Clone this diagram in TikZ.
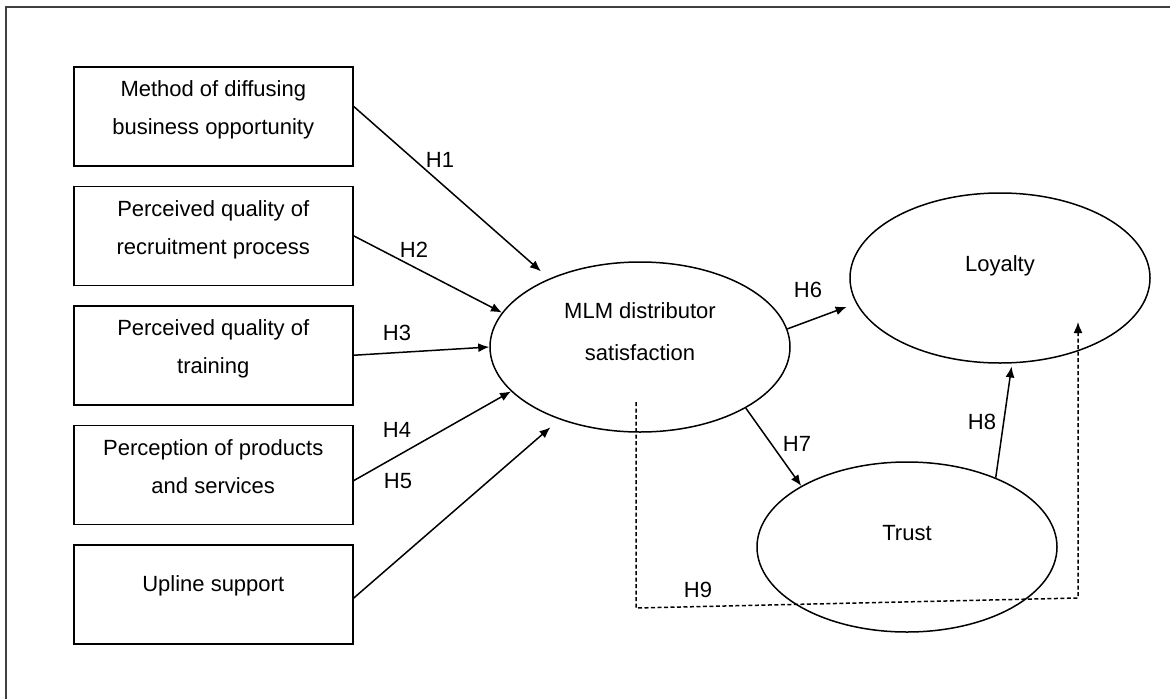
\documentclass[tikz,border=0pt]{standalone}
\usepackage{fontspec}
\setmainfont{Liberation Sans}
\usetikzlibrary{positioning,shapes.geometric,arrows.meta}
\newcommand{\lift}[1]{\rule[-#1]{0pt}{0pt}}
\tikzset{%
    factor/.style={shape=rectangle,draw,line width=1.5pt,minimum width=279pt,minimum height=99pt,inner sep=0pt,align=center},
    construct/.style={shape=ellipse,draw,line width=1.5pt,minimum width=300pt,minimum height=170pt,inner sep=0pt,align=center},
    hyp/.style={-{Latex[length=11pt,width=9pt]},line width=1.5pt},
    mediation/.style={hyp,dash pattern=on 4pt off 2.5pt},
    hlabel/.style={inner sep=0pt},
}
\begin{document}
\begin{tikzpicture}[x=1pt,y=-1pt,font=\fontsize{22}{38}\selectfont]
    \useasboundingbox (0,0) rectangle (1170,699);
    \draw[line width=2pt,color=black!75] (6,699) -- (6,7) -- (1170,7);
    % the five factors
    \node[factor,anchor=north west] (method) at (73,66) {Method of diffusing\\business opportunity\lift{17pt}};
    \node[factor,below=19pt of method] (recruit) {Perceived quality of\\recruitment process\lift{17pt}};
    \node[factor,below=19pt of recruit] (training) {Perceived quality of\\training\lift{17pt}};
    \node[factor,below=19pt of training] (products) {Perception of products\\and services\lift{17pt}};
    \node[factor,below=19pt of products] (upline) {Upline support\lift{21pt}};
    % the outcomes
    \node[construct] (mlm) at (640,347) {MLM distributor\\[4pt]satisfaction\lift{31pt}};
    \node[construct] (loyalty) at (1000,278) {Loyalty\lift{29pt}};
    \node[construct] (trust) at (907,547) {Trust\lift{29pt}};
    % hypotheses
    \draw[hyp,shorten >=11pt] ([yshift=10pt]method.east) -- (mlm.143) node[hlabel] (h1) at (440,160) {H1};
    \draw[hyp] (recruit.east) -- (mlm.166) node[hlabel] (h2) at (414,250) {H2};
    \draw[hyp] (training.east) -- (mlm.180) node[hlabel] (h3) at (397,333) {H3};
    \draw[hyp] ([yshift=-6pt]products.east) -- (mlm.199) node[hlabel] (h4) at (397,430) {H4};
    \draw[hyp,shorten >=12pt] ([yshift=-4pt]upline.east) -- (mlm.222) node[hlabel] (h5) at (398,481) {H5};
    \draw[hyp,shorten >=10pt] (mlm.7) -- (loyalty.190) node[hlabel] (h6) at (808,290) {H6};
    \draw[hyp] (mlm.-30) -- (trust.150) node[hlabel] (h7) at (797,444) {H7};
    \draw[hyp,shorten >=3pt] (trust.38) -- (loyalty.278) node[hlabel] (h8) at (982,422) {H8};
    \coordinate (h9l) at (636,608);
    \coordinate (h9r) at (1078,598);
    \draw[mediation] ([xshift=-4pt,yshift=-55pt]mlm.center) -- (h9l) -- (h9r) -- ([xshift=78pt,yshift=-44pt]loyalty.center);
    \node[hlabel] (h9) at (698,590) {H9};
\end{tikzpicture}
\end{document}
